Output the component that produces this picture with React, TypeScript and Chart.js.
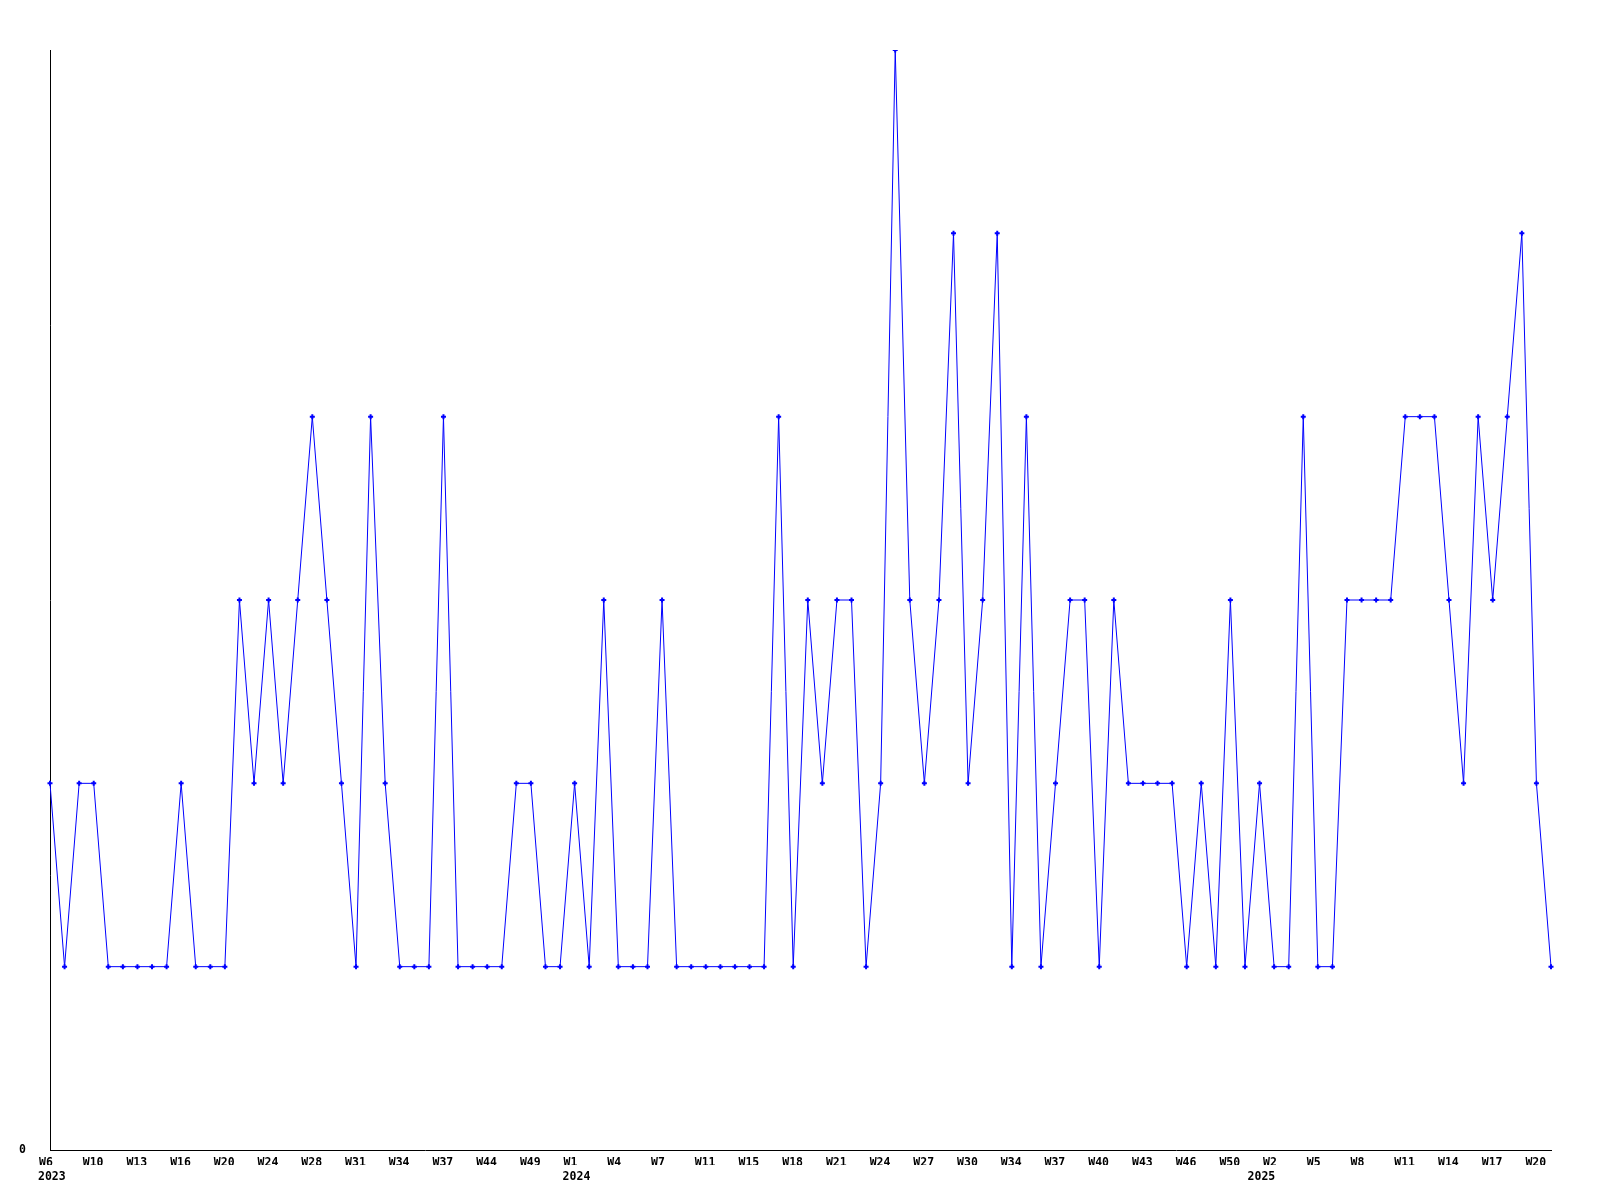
import React, { useEffect, useRef } from "react";
import { Chart, registerables } from "chart.js";

Chart.register(...registerables);

const weeks: string[] = [
  "W6", "W7", "W8", "W10", "W11", "W12", "W13", "W14", "W15", "W16",
  "W17", "W19", "W20", "W21", "W23", "W24", "W25", "W27", "W28", "W29",
  "W30", "W31", "W32", "W33", "W34", "W35", "W36", "W37", "W38", "W40",
  "W44", "W46", "W48", "W49", "W50", "W51", "W1", "W2", "W3", "W4",
  "W5", "W6", "W7", "W8", "W9", "W11", "W12", "W14", "W15", "W16",
  "W17", "W18", "W19", "W20", "W21", "W22", "W23", "W24", "W25", "W26",
  "W27", "W28", "W29", "W30", "W31", "W33", "W34", "W35", "W36", "W37",
  "W38", "W39", "W40", "W41", "W42", "W43", "W44", "W45", "W46", "W47",
  "W48", "W50", "W51", "W1", "W2", "W3", "W4", "W5", "W6", "W7",
  "W8", "W9", "W10", "W11", "W12", "W13", "W14", "W15", "W16", "W17",
  "W18", "W19", "W20", "W21",
];

const years: string[] = [
  ...Array(36).fill("2023"),
  ...Array(47).fill("2024"),
  ...Array(21).fill("2025"),
];

const values: number[] = [
  2, 1, 2, 2, 1, 1, 1, 1, 1, 2,
  1, 1, 1, 3, 2, 3, 2, 3, 4, 3,
  2, 1, 4, 2, 1, 1, 1, 4, 1, 1,
  1, 1, 2, 2, 1, 1, 2, 1, 3, 1,
  1, 1, 3, 1, 1, 1, 1, 1, 1, 1,
  4, 1, 3, 2, 3, 3, 1, 2, 6, 3,
  2, 3, 5, 2, 3, 5, 1, 4, 1, 2,
  3, 3, 1, 3, 2, 2, 2, 2, 1, 2,
  1, 3, 1, 2, 1, 1, 4, 1, 1, 3,
  3, 3, 3, 4, 4, 4, 3, 2, 4, 3,
  4, 5, 2, 1,
];

const yTickValues: number[] = [0];
const LABEL_EVERY = 3;

export default function App() {
  const canvasRef = useRef<HTMLCanvasElement | null>(null);

  useEffect(() => {
    const canvas = canvasRef.current;
    if (!canvas) return;
    const font = { family: "'DejaVu Sans Mono', monospace", size: 11.5, weight: "bold" as const };
    const chart = new Chart(canvas, {
      type: "line",
      data: {
        labels: weeks,
        datasets: [
          {
            data: values,
            xAxisID: "x",
            yAxisID: "y",
            borderColor: "#0000ff",
            backgroundColor: "#0000ff",
            borderWidth: 1,
            tension: 0,
            fill: false,
            pointStyle: "cross",
            pointRadius: 2.5,
            pointBorderWidth: 2,
            pointBorderColor: "#0000ff",
            pointBackgroundColor: "#0000ff",
          },
        ],
      },
      options: {
        responsive: false,
        animation: false,
        devicePixelRatio: 1,
        layout: { padding: { left: 0, top: 50, right: 49, bottom: 0 } },
        plugins: { legend: { display: false }, tooltip: { enabled: false } },
        scales: {
          x: {
            type: "category",
            position: "bottom",
            offset: false,
            grid: { display: false, drawTicks: false },
            border: { display: true, color: "#000000", width: 1 },
            ticks: {
              autoSkip: false,
              maxRotation: 0,
              minRotation: 0,
              align: "start",
              labelOffset: -11,
              padding: 6,
              color: "#000000",
              font,
              callback: (_v: any, index: number) =>
                index % LABEL_EVERY === 0 ? weeks[index] : "",
            },
            afterFit: (scale: any) => { scale.height = 15; },
          },
          x2: {
            type: "category",
            position: "bottom",
            offset: false,
            grid: { display: false, drawTicks: false },
            border: { display: false },
            ticks: {
              autoSkip: false,
              maxRotation: 0,
              minRotation: 0,
              align: "start",
              labelOffset: -12,
              padding: 5,
              color: "#000000",
              font,
              callback: (_v: any, index: number) =>
                index === 0 || years[index] !== years[index - 1] ? years[index] : "",
            },
            afterFit: (scale: any) => { scale.height = 35; },
          },
          y: {
            min: 0,
            max: 6,
            grid: { display: false, drawTicks: false },
            border: { display: true, color: "#000000", width: 1 },
            afterBuildTicks: (scale: any) => {
              scale.ticks = yTickValues.map((v) => ({ value: v }));
            },
            ticks: {
              padding: 24,
              color: "#000000",
              font,
              callback: (v: any) => String(v),
            },
            afterFit: (scale: any) => { scale.width = 50; },
          },
        },
      },
    });
    return () => chart.destroy();
  }, []);

  return (
    <div style={{ position: "absolute", left: 0, top: 0, width: 1600, height: 1200, background: "#ffffff" }}>
      <canvas ref={canvasRef} width={1600} height={1200} style={{ display: "block" }} />
    </div>
  );
}
